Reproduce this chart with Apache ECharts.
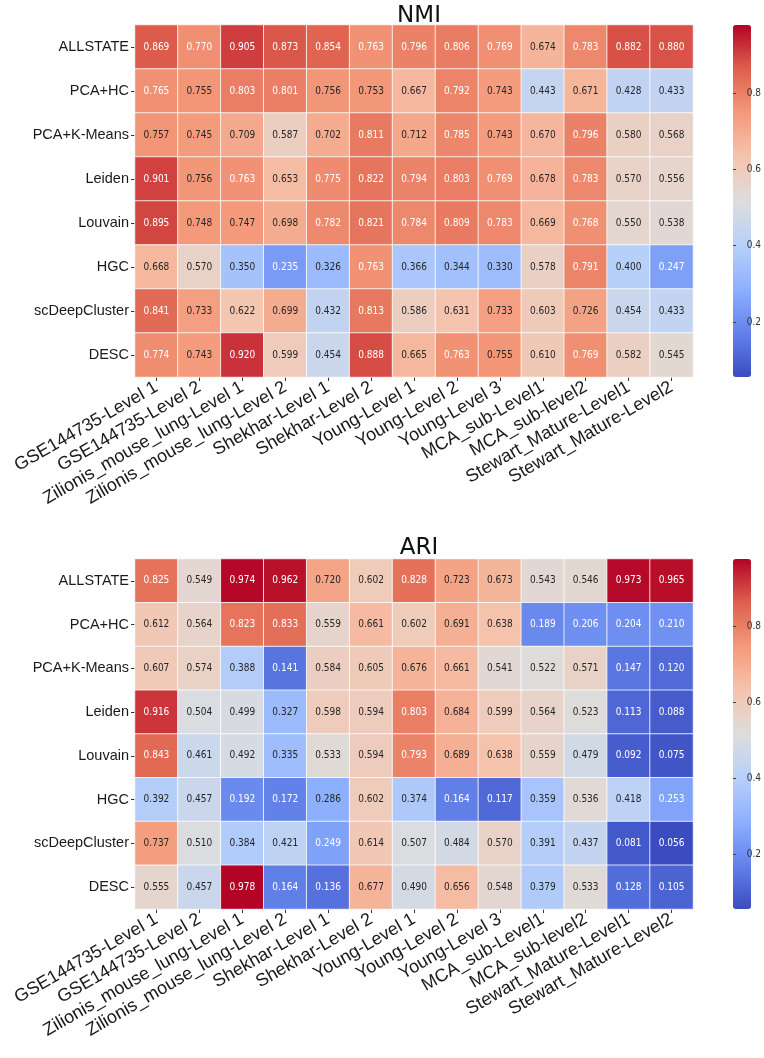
<!DOCTYPE html>
<html><head><meta charset="utf-8">
<script src="https://cdn.jsdelivr.net/npm/echarts@6/dist/echarts.min.js"></script>
<style>html,body{margin:0;padding:0;background:#fff}#c{width:764px;height:1058px}</style>
</head><body><div id="c"></div>
<script>
// ---- data ----
const datasets = ['GSE144735-Level 1','GSE144735-Level 2','Zilionis_mouse_lung-Level 1','Zilionis_mouse_lung-Level 2','Shekhar-Level 1','Shekhar-Level 2','Young-Level 1','Young-Level 2','Young-Level 3','MCA_sub-Level1','MCA_sub-level2','Stewart_Mature-Level1','Stewart_Mature-Level2'];
const methods = ['ALLSTATE','PCA+HC','PCA+K-Means','Leiden','Louvain','HGC','scDeepCluster','DESC'];

const nmiALLSTATE     = [0.869,0.770,0.905,0.873,0.854,0.763,0.796,0.806,0.769,0.674,0.783,0.882,0.880];
const nmiPCAHC        = [0.765,0.755,0.803,0.801,0.756,0.753,0.667,0.792,0.743,0.443,0.671,0.428,0.433];
const nmiPCAKMeans    = [0.757,0.745,0.709,0.587,0.702,0.811,0.712,0.785,0.743,0.670,0.796,0.580,0.568];
const nmiLeiden       = [0.901,0.756,0.763,0.653,0.775,0.822,0.794,0.803,0.769,0.678,0.783,0.570,0.556];
const nmiLouvain      = [0.895,0.748,0.747,0.698,0.782,0.821,0.784,0.809,0.783,0.669,0.768,0.550,0.538];
const nmiHGC          = [0.668,0.570,0.350,0.235,0.326,0.763,0.366,0.344,0.330,0.578,0.791,0.400,0.247];
const nmiScDeepCluster= [0.841,0.733,0.622,0.699,0.432,0.813,0.586,0.631,0.733,0.603,0.726,0.454,0.433];
const nmiDESC         = [0.774,0.743,0.920,0.599,0.454,0.888,0.665,0.763,0.755,0.610,0.769,0.582,0.545];

const ariALLSTATE     = [0.825,0.549,0.974,0.962,0.720,0.602,0.828,0.723,0.673,0.543,0.546,0.973,0.965];
const ariPCAHC        = [0.612,0.564,0.823,0.833,0.559,0.661,0.602,0.691,0.638,0.189,0.206,0.204,0.210];
const ariPCAKMeans    = [0.607,0.574,0.388,0.141,0.584,0.605,0.676,0.661,0.541,0.522,0.571,0.147,0.120];
const ariLeiden       = [0.916,0.504,0.499,0.327,0.598,0.594,0.803,0.684,0.599,0.564,0.523,0.113,0.088];
const ariLouvain      = [0.843,0.461,0.492,0.335,0.533,0.594,0.793,0.689,0.638,0.559,0.479,0.092,0.075];
const ariHGC          = [0.392,0.457,0.192,0.172,0.286,0.602,0.374,0.164,0.117,0.359,0.536,0.418,0.253];
const ariScDeepCluster= [0.737,0.510,0.384,0.421,0.249,0.614,0.507,0.484,0.570,0.391,0.437,0.081,0.056];
const ariDESC         = [0.555,0.457,0.978,0.164,0.136,0.677,0.490,0.656,0.548,0.379,0.533,0.128,0.105];

const colorbarTicks = [0.2, 0.4, 0.6, 0.8];
const colorMin = 0.056, colorMax = 0.978;

// ---- build ----
const nmiRows = [nmiALLSTATE,nmiPCAHC,nmiPCAKMeans,nmiLeiden,nmiLouvain,nmiHGC,nmiScDeepCluster,nmiDESC];
const ariRows = [ariALLSTATE,ariPCAHC,ariPCAKMeans,ariLeiden,ariLouvain,ariHGC,ariScDeepCluster,ariDESC];
const coolwarm = ['#3b4cc0','#6282ea','#8db0fe','#b8d0f9','#dddddd','#f5c4ad','#f49a7b','#de604d','#b40426'];
const YFONT = "'Liberation Sans',Arial,sans-serif";
const XFONT = "'Liberation Sans',Arial,sans-serif";
const CELLFONT = "'DejaVu Sans Condensed','Liberation Sans',sans-serif";

function buildData(rows){
  const out = [];
  rows.forEach((row, r) => row.forEach((v, c) => {
    const light = (v >= 0.76 || v <= 0.262);
    out.push({value:[c, r, v], label:{color: light ? '#ffffff' : '#262626'}});
  }));
  return out;
}

const grids = [
  {left:135, top:25, width:558, height:352},
  {left:135, top:559, width:558, height:350},
  {left:733, top:25, width:18, height:352},
  {left:733, top:559, width:18, height:350}
];

function catX(gi){
  return {type:'category', gridIndex:gi, data:datasets, splitArea:{show:false},
    axisLine:{show:false}, axisTick:{show:true, length:4, alignWithLabel:true, lineStyle:{color:'#333'}},
    axisLabel:{rotate:30, interval:0, fontSize:18, color:'#1a1a1a', fontFamily:XFONT, margin:9}};
}
function catY(gi){
  return {type:'category', gridIndex:gi, data:methods, inverse:true, splitArea:{show:false},
    axisLine:{show:false}, axisTick:{show:true, length:4, alignWithLabel:true, lineStyle:{color:'#333'}},
    axisLabel:{fontSize:14.5, color:'#1a1a1a', fontFamily:YFONT, margin:6}};
}
function cbX(gi){ return {type:'value', gridIndex:gi, show:false}; }
function cbY(gi){
  return {type:'value', gridIndex:gi, position:'right', min:colorMin, max:colorMax, z:20,
    axisLine:{show:false}, splitLine:{show:false},
    axisTick:{show:true, length:3, customValues:colorbarTicks, lineStyle:{color:'#444'}},
    axisLabel:{show:true, customValues:colorbarTicks, fontSize:10, color:'#333', fontFamily:CELLFONT, margin:6,
      formatter: v => v.toFixed(1)}};
}

const cellLabel = {show:true, fontSize:10, fontFamily:CELLFONT, formatter: p => p.value[2].toFixed(3)};

const option = {
  backgroundColor:'#fff',
  animation:false,
  title:[
    {text:'NMI', left:414, top:0, textAlign:'center', textStyle:{fontSize:23, fontWeight:'normal', color:'#111', fontFamily:"'DejaVu Sans',sans-serif"}},
    {text:'ARI', left:414, top:532, textAlign:'center', textStyle:{fontSize:23, fontWeight:'normal', color:'#111', fontFamily:"'DejaVu Sans',sans-serif"}}
  ],
  grid: grids,
  xAxis:[catX(0), catX(1), cbX(2), cbX(3)],
  yAxis:[catY(0), catY(1), cbY(2), cbY(3)],
  visualMap:[
    {type:'continuous', seriesIndex:0, min:colorMin, max:colorMax, calculable:false, show:true, z:1,
     left:733, top:25, itemWidth:18, itemHeight:352, padding:0, text:['',''], inRange:{color:coolwarm}},
    {type:'continuous', seriesIndex:1, min:colorMin, max:colorMax, calculable:false, show:true, z:1,
     left:733, top:559, itemWidth:18, itemHeight:350, padding:0, text:['',''], inRange:{color:coolwarm}}
  ],
  series:[
    {type:'heatmap', xAxisIndex:0, yAxisIndex:0, data:buildData(nmiRows), label:cellLabel,
     itemStyle:{borderColor:'#ffffff', borderWidth:0.8}, emphasis:{disabled:true}},
    {type:'heatmap', xAxisIndex:1, yAxisIndex:1, data:buildData(ariRows), label:cellLabel,
     itemStyle:{borderColor:'#ffffff', borderWidth:0.8}, emphasis:{disabled:true}}
  ]
};
const chart = echarts.init(document.getElementById('c'), null, {renderer:'canvas'});
chart.setOption(option);
</script></body></html>
